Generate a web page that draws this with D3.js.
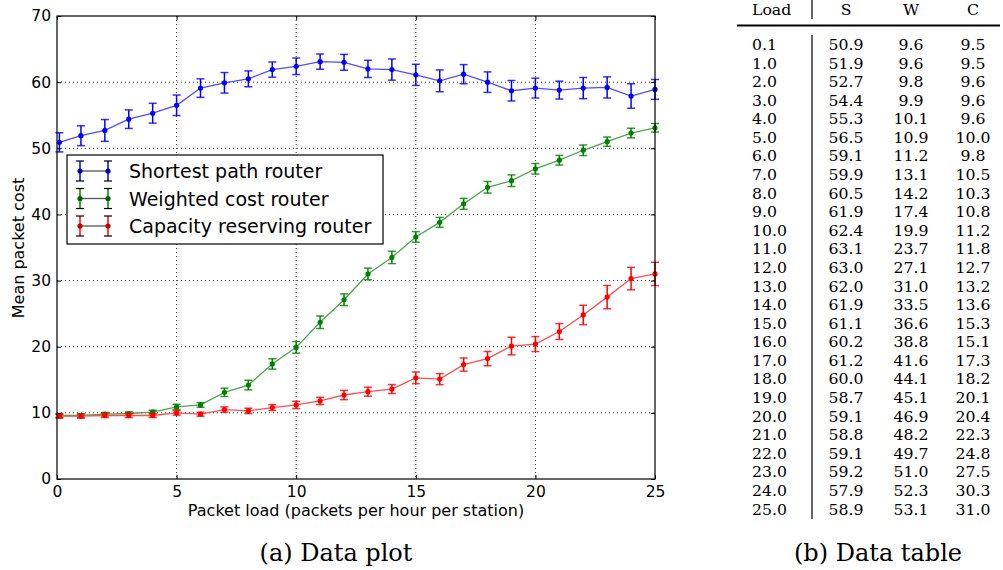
<!DOCTYPE html>
<html>
<head>
<meta charset="utf-8">
<script src="https://cdnjs.cloudflare.com/ajax/libs/d3/7.8.5/d3.min.js"></script>
<style>
  body { margin: 0; background: #fff; }
  svg { display: block; }
</style>
</head>
<body>
<div id="chart"></div>
<script>
// Data (b)
var loads = [0.1, 1, 2, 3, 4, 5, 6, 7, 8, 9, 10, 11, 12, 13, 14, 15, 16, 17, 18, 19, 20, 21, 22, 23, 24, 25];
var shortest = [50.9, 51.9, 52.7, 54.4, 55.3, 56.5, 59.1, 59.9, 60.5, 61.9, 62.4, 63.1, 63.0, 62.0, 61.9, 61.1, 60.2, 61.2, 60.0, 58.7, 59.1, 58.8, 59.1, 59.2, 57.9, 58.9];
var weighted = [9.6, 9.6, 9.8, 9.9, 10.1, 10.9, 11.2, 13.1, 14.2, 17.4, 19.9, 23.7, 27.1, 31.0, 33.5, 36.6, 38.8, 41.6, 44.1, 45.1, 46.9, 48.2, 49.7, 51.0, 52.3, 53.1];
var capacity = [9.5, 9.5, 9.6, 9.6, 9.6, 10.0, 9.8, 10.5, 10.3, 10.8, 11.2, 11.8, 12.7, 13.2, 13.6, 15.3, 15.1, 17.3, 18.2, 20.1, 20.4, 22.3, 24.8, 27.5, 30.3, 31.0];
// error bar half-heights, estimated from the plot
var shortestErr = [1.45, 1.5, 1.65, 1.4, 1.5, 1.55, 1.4, 1.55, 1.2, 1.15, 1.25, 1.15, 1.2, 1.3, 1.6, 1.6, 1.65, 1.45, 1.55, 1.55, 1.5, 1.35, 1.6, 1.6, 1.85, 1.5];
var weightedErr = [0.3, 0.25, 0.25, 0.25, 0.3, 0.4, 0.35, 0.63, 0.73, 0.78, 0.88, 0.95, 0.88, 0.88, 0.93, 0.8, 0.75, 0.83, 0.88, 0.88, 0.8, 0.73, 0.8, 0.7, 0.73, 0.65];
var capacityErr = [0.3, 0.3, 0.3, 0.3, 0.3, 0.35, 0.3, 0.4, 0.4, 0.45, 0.55, 0.55, 0.7, 0.68, 0.68, 0.88, 0.83, 1.0, 1.08, 1.33, 1.13, 1.2, 1.46, 1.76, 1.7, 1.76];
var seriesNames = ["Shortest path router", "Weighted cost router", "Capacity reserving router"];
var xTicks = [0, 5, 10, 15, 20, 25];
var yTicks = [0, 10, 20, 30, 40, 50, 60, 70];
var tableHeader = ["Load", "S", "W", "C"];

var series = [
    {name: seriesNames[0], y: shortest, err: shortestErr, color: "#0000ff", line: "#4d4dff", dark: "#0000b0"},
    {name: seriesNames[1], y: weighted, err: weightedErr, color: "#008000", line: "#4da64d", dark: "#006000"},
    {name: seriesNames[2], y: capacity, err: capacityErr, color: "#ff0000", line: "#ff4d4d", dark: "#c00000"}
];

var W = 1003, H = 570;
var svg = d3.select("#chart").append("svg")
    .attr("width", W)
    .attr("height", H);

// ---------- plot (a) ----------
var margin = {top: 16, left: 57};
var width = 598, height = 463;
var g = svg.append("g")
    .attr("transform", "translate(" + margin.left + "," + margin.top + ")");

var x = d3.scaleLinear().domain([0, 25]).range([0, width]);
var y = d3.scaleLinear().domain([0, 70]).range([height, 0]);

// grid
g.selectAll(".gx").data(xTicks.slice(1, -1)).enter().append("line")
    .attr("x1", function(d) { return x(d); })
    .attr("x2", function(d) { return x(d); })
    .attr("y1", 0).attr("y2", height)
    .style("stroke", "#000").style("stroke-width", 1)
    .style("stroke-dasharray", "1,3").style("opacity", 0.8);
g.selectAll(".gy").data(yTicks.slice(1, -1)).enter().append("line")
    .attr("y1", function(d) { return y(d); })
    .attr("y2", function(d) { return y(d); })
    .attr("x1", 0).attr("x2", width)
    .style("stroke", "#000").style("stroke-width", 1)
    .style("stroke-dasharray", "1,3").style("opacity", 0.8);

// series
var line = d3.line()
    .x(function(d, i) { return x(loads[i]); })
    .y(function(d) { return y(d); });

series.forEach(function(s) {
    g.append("path")
        .datum(s.y)
        .attr("d", line)
        .attr("fill", "none")
        .attr("stroke", s.line)
        .attr("stroke-width", 1.3);

    var eb = g.append("g");
    s.y.forEach(function(v, i) {
        var cx = x(loads[i]);
        var y1 = y(v + s.err[i]), y2 = y(v - s.err[i]);
        eb.append("line").attr("x1", cx).attr("x2", cx).attr("y1", y1).attr("y2", y2)
            .attr("stroke", s.color).attr("stroke-width", 1.5);
        eb.append("line").attr("x1", cx - 4).attr("x2", cx + 4).attr("y1", y1).attr("y2", y1)
            .attr("stroke", s.color).attr("stroke-width", 1.5).attr("opacity", 0.8);
        eb.append("line").attr("x1", cx - 4).attr("x2", cx + 4).attr("y1", y2).attr("y2", y2)
            .attr("stroke", s.color).attr("stroke-width", 1.5).attr("opacity", 0.8);
    });

    g.append("g").selectAll("circle").data(s.y).enter().append("circle")
        .attr("cx", function(d, i) { return x(loads[i]); })
        .attr("cy", function(d) { return y(d); })
        .attr("r", 2.6)
        .attr("fill", s.color);
});

// frame
g.append("rect")
    .attr("width", width).attr("height", height)
    .attr("fill", "none").attr("stroke", "#000").attr("stroke-width", 1.2);

// axes, ticks pointing inward like matplotlib classic
var xAxis = d3.axisBottom(x).tickValues(xTicks).tickSize(-4).tickPadding(7).tickFormat(d3.format("d"));
var yAxis = d3.axisLeft(y).tickValues(yTicks).tickSize(-4).tickPadding(6).tickFormat(d3.format("d"));
var gx = g.append("g").attr("transform", "translate(0," + height + ")").call(xAxis);
var gy = g.append("g").call(yAxis);
g.append("g").call(d3.axisTop(x).tickValues(xTicks).tickSize(-4).tickFormat(""));
g.append("g").attr("transform", "translate(" + width + ",0)")
    .call(d3.axisRight(y).tickValues(yTicks).tickSize(-4).tickFormat(""));

g.selectAll(".domain").remove();
g.selectAll(".tick line").attr("stroke", "#000");
[gx, gy].forEach(function(a) {
    a.selectAll("text")
        .style("font-family", "DejaVu Sans")
        .style("font-size", "15.5px")
        .attr("fill", "#000");
});

// axis labels
g.append("text")
    .attr("x", width / 2).attr("y", height + 37)
    .style("text-anchor", "middle")
    .style("font-family", "DejaVu Sans").style("font-size", "16px")
    .text("Packet load (packets per hour per station)");
g.append("text")
    .attr("transform", "rotate(-90)")
    .attr("x", 0 - (248 - margin.top)).attr("y", -33)
    .style("text-anchor", "middle")
    .style("font-family", "DejaVu Sans").style("font-size", "16px")
    .text("Mean packet cost");

// legend
var legend = svg.append("g").attr("transform", "translate(67,155)");
legend.append("rect")
    .attr("width", 316).attr("height", 89)
    .attr("fill", "#fff").attr("stroke", "#000").attr("stroke-width", 1.2);
series.forEach(function(s, i) {
    var ly = 16 + i * 27.5;
    var row = legend.append("g").attr("transform", "translate(0," + ly + ")");
    row.append("line").attr("x1", 13).attr("x2", 41).attr("y1", 0).attr("y2", 0)
        .attr("stroke", "#555").attr("stroke-width", 1.3);
    [13, 41].forEach(function(cx) {
        row.append("line").attr("x1", cx).attr("x2", cx).attr("y1", -10).attr("y2", 10)
            .attr("stroke", s.color).attr("stroke-width", 1.5);
        row.append("line").attr("x1", cx - 4).attr("x2", cx + 4).attr("y1", -10).attr("y2", -10)
            .attr("stroke", "#000").attr("stroke-width", 1.2);
        row.append("line").attr("x1", cx - 4).attr("x2", cx + 4).attr("y1", 10).attr("y2", 10)
            .attr("stroke", "#000").attr("stroke-width", 1.2);
        row.append("circle").attr("cx", cx).attr("cy", 0).attr("r", 2.6).attr("fill", s.dark);
    });
    row.append("text")
        .attr("x", 62).attr("y", 7)
        .style("font-family", "DejaVu Sans").style("font-size", "19px")
        .text(s.name);
});

// caption (a)
svg.append("text")
    .attr("x", 336).attr("y", 561)
    .style("text-anchor", "middle")
    .style("font-family", "DejaVu Serif").style("font-size", "24px")
    .text("(a) Data plot");

// ---------- table (b) ----------
var tbl = svg.append("g");
var colX = [752, 846, 911, 973];
tableHeader.forEach(function(h, i) {
    tbl.append("text")
        .attr("x", colX[i]).attr("y", 15)
        .style("text-anchor", i === 0 ? "start" : "middle")
        .style("font-family", "DejaVu Serif").style("font-size", "15.7px")
        .text(h);
});
tbl.append("line").attr("x1", 737).attr("x2", 1000).attr("y1", 25.5).attr("y2", 25.5)
    .attr("stroke", "#000").attr("stroke-width", 2);
tbl.append("line").attr("x1", 812).attr("x2", 812).attr("y1", 0).attr("y2", 19)
    .attr("stroke", "#000").attr("stroke-width", 1.2);
tbl.append("line").attr("x1", 812).attr("x2", 812).attr("y1", 35).attr("y2", 519)
    .attr("stroke", "#000").attr("stroke-width", 1.2);

var rowY = d3.scaleLinear().domain([0, loads.length - 1]).range([50, 514.5]);
loads.forEach(function(l, i) {
    var cells = [l.toFixed(1), shortest[i].toFixed(1), weighted[i].toFixed(1), capacity[i].toFixed(1)];
    cells.forEach(function(c, j) {
        tbl.append("text")
            .attr("x", colX[j]).attr("y", rowY(i))
            .style("text-anchor", j === 0 ? "start" : "middle")
            .style("font-family", "DejaVu Serif").style("font-size", "15.7px")
            .text(c);
    });
});

// caption (b)
svg.append("text")
    .attr("x", 878).attr("y", 561)
    .style("text-anchor", "middle")
    .style("font-family", "DejaVu Serif").style("font-size", "24px")
    .text("(b) Data table");
</script>
</body>
</html>
